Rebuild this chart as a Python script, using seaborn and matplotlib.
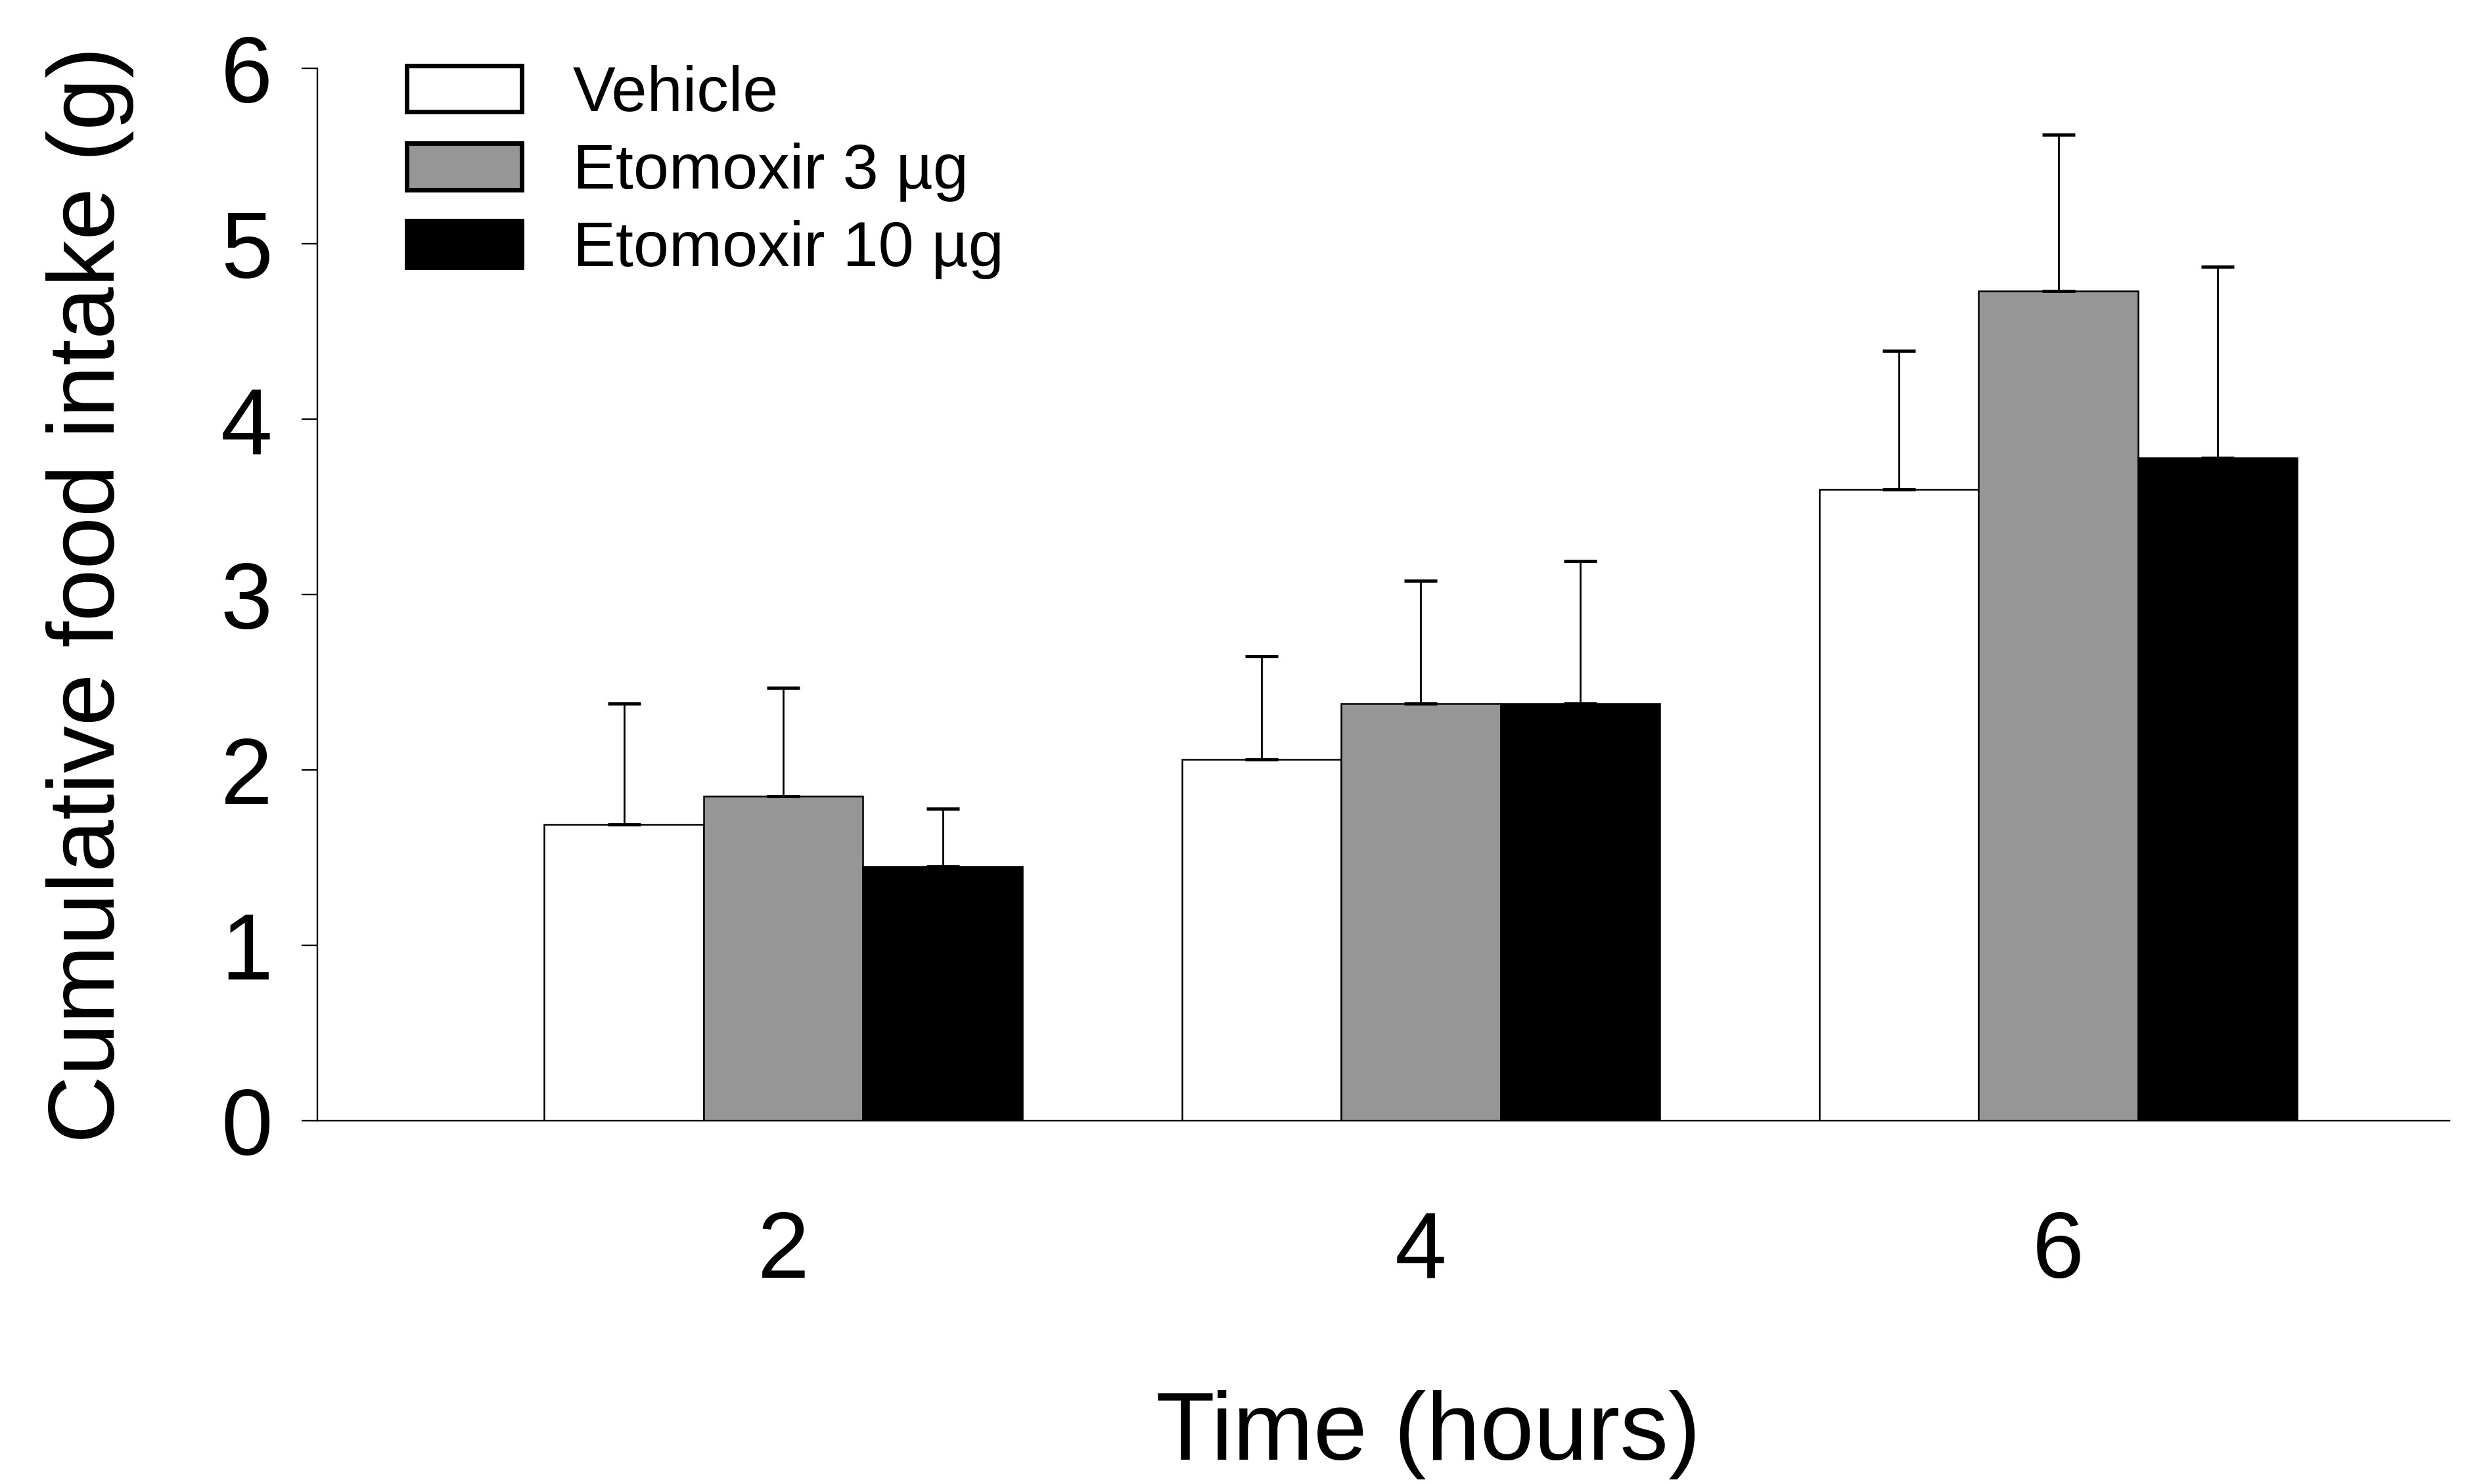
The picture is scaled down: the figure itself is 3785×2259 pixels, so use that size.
import numpy as np
import pandas as pd
import matplotlib
matplotlib.use("Agg")
import matplotlib.pyplot as plt
import seaborn as sns

# values (g)
times = ["2", "4", "6"]
groups = ["Vehicle", "Etomoxir 3 µg", "Etomoxir 10 µg"]
vehicle = [1.69, 2.06, 3.60]
etx3 = [1.85, 2.38, 4.73]
etx10 = [1.45, 2.38, 3.78]
vehicle_err = [0.69, 0.59, 0.79]
etx3_err = [0.62, 0.70, 0.89]
etx10_err = [0.33, 0.81, 1.09]
colors = ["white", "#969696", "black"]

means = [vehicle, etx3, etx10]
errs = [vehicle_err, etx3_err, etx10_err]

# long table for seaborn
rows = []
for g, vals in zip(groups, means):
    for t, v in zip(times, vals):
        rows.append({"time": t, "intake": v, "group": g})
df = pd.DataFrame(rows)

sns.set_style("ticks")
plt.rcParams["font.family"] = ["Liberation Sans", "DejaVu Sans"]
plt.rcParams["text.color"] = "black"
plt.rcParams["axes.labelcolor"] = "black"

fig = plt.figure(figsize=(37.85, 22.59), dpi=100)
ax = fig.add_axes([0.1276, 0.2447, 0.8574, 0.7093])

sns.barplot(data=df, x="time", y="intake", hue="group", order=times,
            hue_order=groups, palette=colors, edgecolor="black", linewidth=1.8,
            width=0.75, gap=0, errorbar=None, saturation=1, ax=ax)

# upper error bars only, placed on the bars seaborn drew
for cont, err in zip(ax.containers, errs):
    xs = [p.get_x() + p.get_width() / 2 for p in cont]
    ys = [p.get_height() for p in cont]
    ax.errorbar(xs, ys, yerr=[np.zeros(len(err)), err], fmt="none",
                ecolor="black", elinewidth=2, capsize=18, capthick=3.5)

ax.set_ylim(0, 6)
ax.set_yticks(range(0, 7))
ax.set_xlim(-0.731, 2.614)
sns.despine(ax=ax)
for s in ["left", "bottom"]:
    ax.spines[s].set_linewidth(1.7)
    ax.spines[s].set_color("black")

ax.tick_params(axis="y", length=17, width=1.7, pad=32, labelsize=102, colors="black")
ax.tick_params(axis="x", length=0, pad=97, labelsize=102, colors="black")

ax.set_xlabel("Time (hours)", fontsize=106, color="black")
ax.set_ylabel("Cumulative food intake (g)", fontsize=103, color="black")
ax.xaxis.set_label_coords(0.521, -0.256)
ax.yaxis.set_label_coords(-0.086, 0.5)

leg = ax.legend(loc="upper left", bbox_to_anchor=(0.042, 1.003), frameon=False,
                fontsize=70, handlelength=1.8, handleheight=0.74,
                handletextpad=0.8, labelspacing=0.29, borderpad=0,
                borderaxespad=0)
for h in leg.legend_handles:
    h.set_linewidth(5)
    h.set_edgecolor("black")
for t in leg.get_texts():
    t.set_color("black")

fig.savefig("out.png", dpi=100)
